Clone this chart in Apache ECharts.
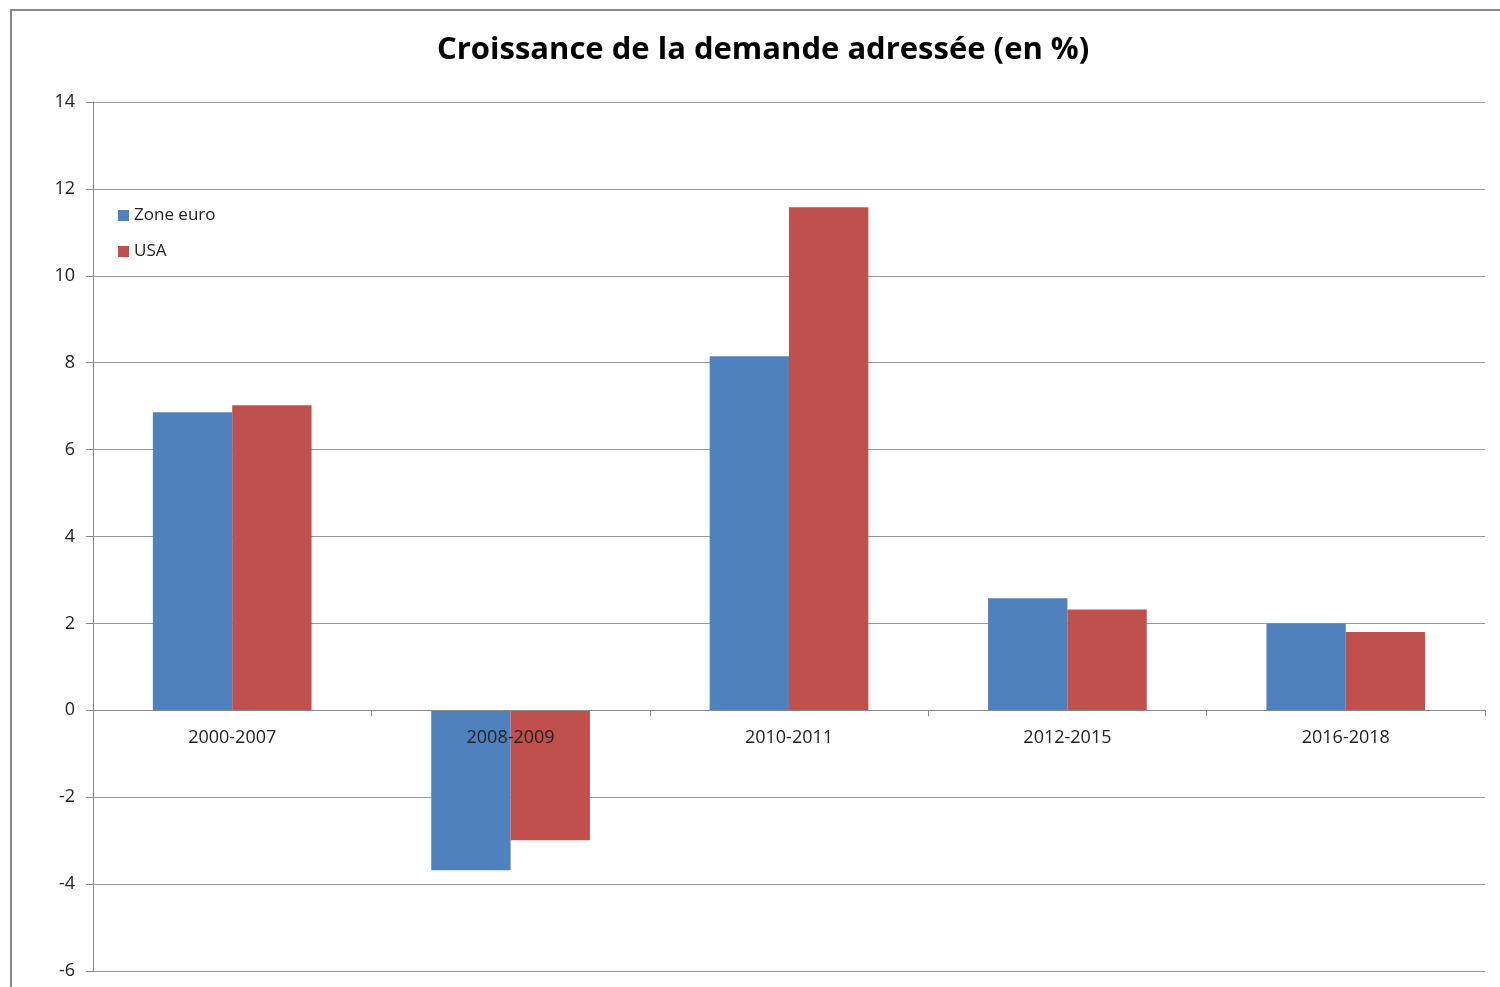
<!DOCTYPE html>
<html>
<head>
<meta charset="utf-8">
<script src="https://cdn.jsdelivr.net/npm/echarts@6/dist/echarts.min.js"></script>
<style>
  html, body { margin: 0; padding: 0; background: #fff; }
  #chart { width: 1500px; height: 987px; }
</style>
</head>
<body>
<div id="chart"></div>
<script>
var categories = ['2000-2007', '2008-2009', '2010-2011', '2012-2015', '2016-2018'];
var zoneEuro = [6.86, -3.68, 8.15, 2.58, 2.0];
var usa = [7.02, -2.99, 11.58, 2.32, 1.8];
var seriesNames = ['Zone euro', 'USA'];
var yMin = -6, yMax = 14;

var chart = echarts.init(document.getElementById('chart'));
var font = '"Open Sans", "Liberation Sans", sans-serif';

// place the category axis on the zero line
var gridTop = 102, gridBottom = 16;
var plotH = 987 - gridTop - gridBottom;
var zeroOffset = -plotH * (0 - yMin) / (yMax - yMin);

chart.setOption({
    animation: false,
    title: {
        text: 'Croissance de la demande adressée (en %)',
        left: 432,
        top: 30,
        textStyle: { fontFamily: font, fontSize: 31, fontWeight: 'bold', color: '#000' }
    },
    graphic: [{
        type: 'rect',
        shape: { x: 11, y: 10, width: 1600, height: 1100 },
        style: { fill: 'none', stroke: '#888', lineWidth: 2 },
        silent: true
    }],
    legend: {
        orient: 'vertical',
        left: 113,
        top: 202,
        icon: 'rect',
        itemWidth: 11,
        itemHeight: 11,
        itemGap: 19,
        textStyle: { fontFamily: font, fontSize: 17, color: '#222' },
        data: seriesNames
    },
    grid: { left: 93, right: 15, top: gridTop, bottom: gridBottom, outerBoundsMode: 'none', containLabel: false },
    xAxis: {
        type: 'category',
        data: categories,
        offset: zeroOffset,
        z: 10,
        axisLine: { onZero: false, lineStyle: { color: '#888' } },
        axisTick: { show: true, length: 6, interval: 0, lineStyle: { color: '#888' } },
        axisLabel: { fontFamily: font, fontSize: 18, color: '#222', margin: 19, interval: 0 }
    },
    yAxis: {
        type: 'value',
        min: yMin,
        max: yMax,
        interval: 2,
        axisLine: { show: true, lineStyle: { color: '#888' } },
        axisTick: { show: true, length: 7, lineStyle: { color: '#888' } },
        axisLabel: { fontFamily: font, fontSize: 18, color: '#222', margin: 18 },
        splitLine: { lineStyle: { color: '#999' } }
    },
    series: [{
        name: seriesNames[0],
        type: 'bar',
        data: zoneEuro,
        barGap: '0%',
        barCategoryGap: '43%',
        itemStyle: { color: '#4F81BD' }
    }, {
        name: seriesNames[1],
        type: 'bar',
        data: usa,
        barGap: '0%',
        barCategoryGap: '43%',
        itemStyle: { color: '#C0504D' }
    }]
});
</script>
</body>
</html>
